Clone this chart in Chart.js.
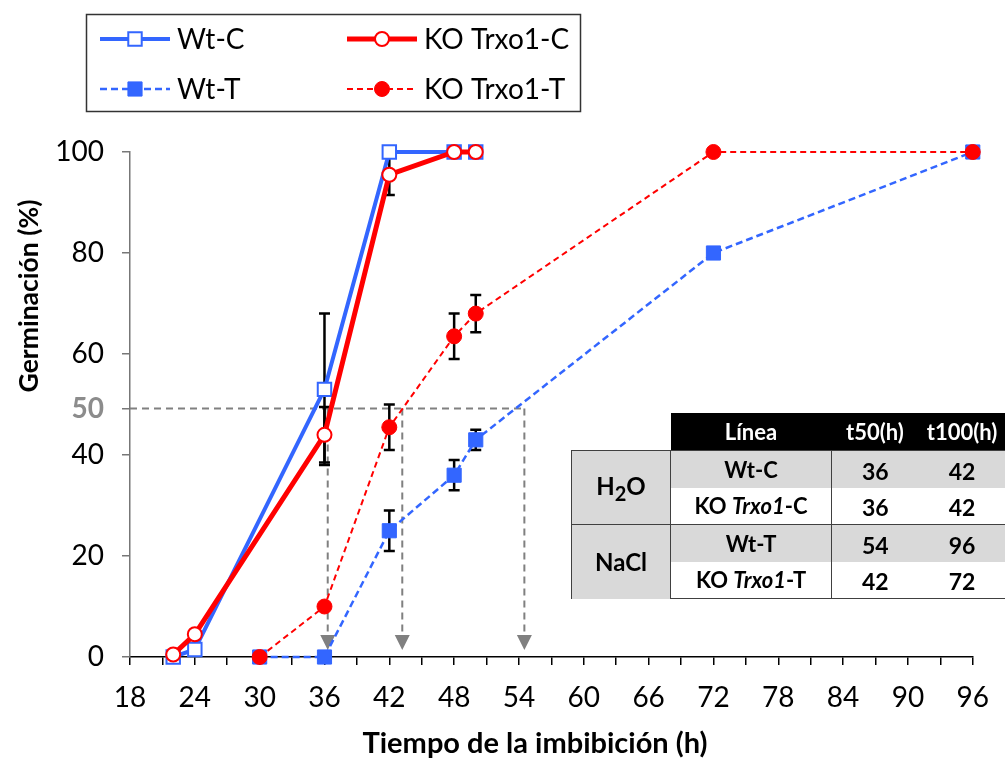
<!DOCTYPE html>
<html>
<head>
<meta charset="utf-8">
<script src="https://cdn.jsdelivr.net/npm/chart.js@4.4.0/dist/chart.umd.min.js"></script>
<style>
  body { margin: 0; background: #fff; }
  #wrap { position: relative; width: 1005px; height: 759px; overflow: hidden; }
  #chart { position: absolute; left: 0; top: 0; }
  #tbl {
    position: absolute; left: 571px; top: 413px; width: 434px; table-layout: fixed;
    border-collapse: collapse; font-family: Lato, sans-serif; font-weight: bold;
    font-size: 22px; color: #000;
  }
  #tbl td, #tbl th { padding: 0; text-align: center; height: 36.5px; white-space: nowrap; }
  #tbl th { background: #000; color: #fff; height: 37px; font-size: 22px; font-weight: bold; }
  #tbl td.blank { background: transparent; }
  #tbl td.grp { background: #d9d9d9; font-size: 24px;
    border-left: 1.5px solid #404040; border-right: 1.5px solid #404040; }
  #tbl td.line { border-right: 1.5px solid #404040; }
  #tbl td.num { font-size: 23px; padding-top: 3px; height: 33.5px; }
  #tbl tr.shade td.line, #tbl tr.shade td.num { background: #d9d9d9; }
  #tbl tr.first td { border-top: 1.5px solid #404040; }
  #tbl tr.last td { border-bottom: 1.5px solid #404040; }
</style>
</head>
<body>
<div id="wrap">
  <canvas id="chart" width="1005" height="759"></canvas>
  <table id="tbl">
    <colgroup><col style="width:99px"><col style="width:161px"><col style="width:87px"><col style="width:87px"></colgroup>
    <tbody id="tbody"></tbody>
  </table>
</div>
<script>
'use strict';

// ------- Data ------- //
const xControl = [22, 24, 36, 42, 48, 50];
const xSalt = [30, 36, 42, 48, 50, 72, 96];

const wtC = [0, 1.5, 53, 100, 100, 100];
const wtCErr = [0, 0, 15, 0, 0, 0];
const koC = [0.5, 4.5, 44, 95.5, 100, 100];
const koCErr = [0, 0, 5.5, 4, 0, 0];
const wtT = [0, 0, 25, 36, 43, 80, 100];
const wtTErr = [0, 0, 4, 3, 2, 0, 0];
const koT = [0, 10, 45.5, 63.5, 68, 100, 100];
const koTErr = [0, 0, 4.5, 4.5, 3.7, 0, 0];

const yTicks = [0, 20, 40, 60, 80, 100];
const halfLevel = 49.2; // dashed 50 % guide as drawn
const halfTimes = [36.3, 43.2, 54.5]; // where the guide arrows drop

// table
const groups = ['H<sub>2</sub>O', 'NaCl'];
const lines = ['Wt-C', 'KO <i>Trxo1</i>-C', 'Wt-T', 'KO <i>Trxo1</i>-T'];
const t50 = [36, 36, 54, 42];
const t100 = [42, 42, 96, 72];

const BLUE = '#3366ff';
const RED = '#ff0000';
const FONT = 'Lato, "Open Sans", sans-serif';

// ------- Table ------- //
let html = '<tr><td class="blank"></td><th>Línea</th><th>t50(h)</th><th>t100(h)</th></tr>';
lines.forEach((name, i) => {
  const cls = [i % 2 === 0 ? 'shade' : '', i % 2 === 0 ? 'first' : 'last'].join(' ');
  html += '<tr class="' + cls + '">';
  if (i % 2 === 0) html += '<td class="grp" rowspan="2">' + groups[i / 2] + '</td>';
  html += '<td class="line">' + name + '</td><td class="num">' + t50[i] + '</td><td class="num">' + t100[i] + '</td></tr>';
});
document.getElementById('tbody').innerHTML = html;

const pts = (xs, ys) => xs.map((x, i) => ({ x: x, y: ys[i] }));

// ------- Plugins ------- //
const guidePlugin = {
  id: 'guides',
  beforeDatasetsDraw(chart) {
    const { ctx, scales: { x, y } } = chart;
    const yh = y.getPixelForValue(halfLevel);
    ctx.save();
    ctx.strokeStyle = '#808080';
    ctx.fillStyle = '#808080';
    ctx.lineWidth = 2;
    ctx.setLineDash([7, 5]);
    ctx.beginPath();
    ctx.moveTo(x.getPixelForValue(18), yh);
    ctx.lineTo(x.getPixelForValue(halfTimes[halfTimes.length - 1]), yh);
    ctx.stroke();
    const tip = y.getPixelForValue(0) - 7;
    halfTimes.forEach((t) => {
      const px = x.getPixelForValue(t);
      ctx.beginPath();
      ctx.moveTo(px, yh);
      ctx.lineTo(px, tip - 14);
      ctx.stroke();
    });
    ctx.setLineDash([]);
    halfTimes.forEach((t) => {
      const px = x.getPixelForValue(t);
      ctx.beginPath();
      ctx.moveTo(px - 7.5, tip - 15);
      ctx.lineTo(px + 7.5, tip - 15);
      ctx.lineTo(px, tip);
      ctx.closePath();
      ctx.fill();
    });
    ctx.restore();
  },
};

const errorPlugin = {
  id: 'errorBars',
  beforeDatasetsDraw(chart) {
    const { ctx, scales: { x, y } } = chart;
    ctx.save();
    ctx.strokeStyle = '#000';
    ctx.lineWidth = 2.5;
    chart.data.datasets.forEach((ds) => {
      ds.data.forEach((p, i) => {
        const e = ds.errors[i];
        if (!e) return;
        const px = x.getPixelForValue(p.x);
        const top = y.getPixelForValue(p.y + e);
        const bot = y.getPixelForValue(p.y - e);
        ctx.beginPath();
        ctx.moveTo(px, top); ctx.lineTo(px, bot);
        ctx.moveTo(px - 5.5, top); ctx.lineTo(px + 5.5, top);
        ctx.moveTo(px - 5.5, bot); ctx.lineTo(px + 5.5, bot);
        ctx.stroke();
      });
    });
    ctx.restore();
  },
};

// legend layout: [label, x, y]
const legendItems = [
  ['Wt-C', 100, 39],
  ['KO Trxo1-C', 347, 39],
  ['Wt-T', 100, 89],
  ['KO Trxo1-T', 347, 89],
];

const textPlugin = {
  id: 'texts',
  afterDraw(chart) {
    const { ctx } = chart;
    ctx.save();
    ctx.fillStyle = '#000';
    ctx.textAlign = 'center';
    ctx.textBaseline = 'middle';
    ctx.font = 'bold 29px ' + FONT;
    ctx.fillText('Tiempo de la imbibición (h)', 535, 744);
    ctx.translate(29, 296);
    ctx.rotate(-Math.PI / 2);
    ctx.font = 'bold 26.5px ' + FONT;
    ctx.fillText('Germinación (%)', 0, 0);
    ctx.restore();

    // legend box
    ctx.save();
    ctx.strokeStyle = '#333';
    ctx.lineWidth = 1.5;
    ctx.strokeRect(86.5, 14.5, 494, 97);
    legendItems.forEach(([label, lx, ly]) => {
      const ds = chart.data.datasets.find((d) => d.label === label);
      ctx.strokeStyle = ds.borderColor;
      ctx.lineWidth = ds.borderWidth;
      ctx.setLineDash(ds.borderDash || []);
      ctx.beginPath();
      ctx.moveTo(lx, ly);
      ctx.lineTo(lx + 70, ly);
      ctx.stroke();
      ctx.setLineDash([]);
      ctx.fillStyle = ds.pointBackgroundColor;
      ctx.strokeStyle = ds.pointBorderColor;
      ctx.lineWidth = ds.pointBorderWidth;
      ctx.beginPath();
      if (ds.pointStyle === 'rect') {
        const s = ds.pointRadius * Math.SQRT1_2;
        ctx.rect(lx + 35 - s, ly - s, 2 * s, 2 * s);
      } else {
        ctx.arc(lx + 35, ly, ds.pointRadius, 0, Math.PI * 2);
      }
      ctx.fill();
      ctx.stroke();
      ctx.fillStyle = '#000';
      ctx.font = '28px ' + FONT;
      ctx.textAlign = 'left';
      ctx.textBaseline = 'middle';
      ctx.fillText(label, lx + 77, ly + 1);
    });
    ctx.restore();
  },
};

// ------- Chart ------- //
new Chart(document.getElementById('chart'), {
  type: 'line',
  data: {
    datasets: [
      {
        label: 'KO Trxo1-C', data: pts(xControl, koC), errors: koCErr, order: 0,
        borderColor: RED, borderWidth: 5, pointStyle: 'circle', pointRadius: 7,
        pointBackgroundColor: '#fff', pointBorderColor: RED, pointBorderWidth: 2,
      },
      {
        label: 'KO Trxo1-T', data: pts(xSalt, koT), errors: koTErr, order: 1,
        borderColor: RED, borderWidth: 2, borderDash: [6, 4], pointStyle: 'circle', pointRadius: 7.5,
        pointBackgroundColor: RED, pointBorderColor: RED, pointBorderWidth: 1,
      },
      {
        label: 'Wt-C', data: pts(xControl, wtC), errors: wtCErr, order: 2,
        borderColor: BLUE, borderWidth: 4, pointStyle: 'rect', pointRadius: 9.5,
        pointBackgroundColor: '#fff', pointBorderColor: BLUE, pointBorderWidth: 2,
      },
      {
        label: 'Wt-T', data: pts(xSalt, wtT), errors: wtTErr, order: 3,
        borderColor: BLUE, borderWidth: 2.5, borderDash: [7, 4], pointStyle: 'rect', pointRadius: 10,
        pointBackgroundColor: BLUE, pointBorderColor: BLUE, pointBorderWidth: 1,
      },
    ],
  },
  options: {
    responsive: false,
    animation: false,
    devicePixelRatio: 1,
    layout: { padding: { top: 152, right: 31, left: 0, bottom: 0 } },
    elements: { line: { tension: 0 } },
    datasets: { line: { clip: false } },
    scales: {
      x: {
        type: 'linear', min: 18, max: 96,
        afterFit: (scale) => { scale.height = 102; },
        ticks: {
          stepSize: 3, autoSkip: false, maxRotation: 0, padding: 16,
          color: '#000', font: { family: FONT, size: 28 },
          callback: (v) => (v % 6 === 0 ? v : ''),
        },
        grid: { drawOnChartArea: false, tickLength: 8, color: '#000', lineWidth: 1.5 },
        border: { color: '#000', width: 1.5 },
      },
      y: {
        min: 0, max: 100,
        afterFit: (scale) => { scale.width = 130; },
        afterBuildTicks: (scale) => {
          scale.ticks = yTicks.concat([halfLevel]).sort((a, b) => a - b).map((v) => ({ value: v }));
        },
        ticks: {
          padding: 18,
          color: (c) => (c.tick && c.tick.value === halfLevel ? '#8c8c8c' : '#000'),
          font: (c) => ({ family: FONT, size: 28, weight: c.tick && c.tick.value === halfLevel ? 'bold' : 'normal' }),
          callback: (v) => (v === halfLevel ? '50' : v),
        },
        grid: { drawOnChartArea: false, tickLength: 8, color: '#777', lineWidth: 1.5 },
        border: { color: '#777', width: 1.5 },
      },
    },
    plugins: {
      legend: { display: false },
      tooltip: { enabled: false },
    },
  },
  plugins: [guidePlugin, errorPlugin, textPlugin],
});
</script>
</body>
</html>
